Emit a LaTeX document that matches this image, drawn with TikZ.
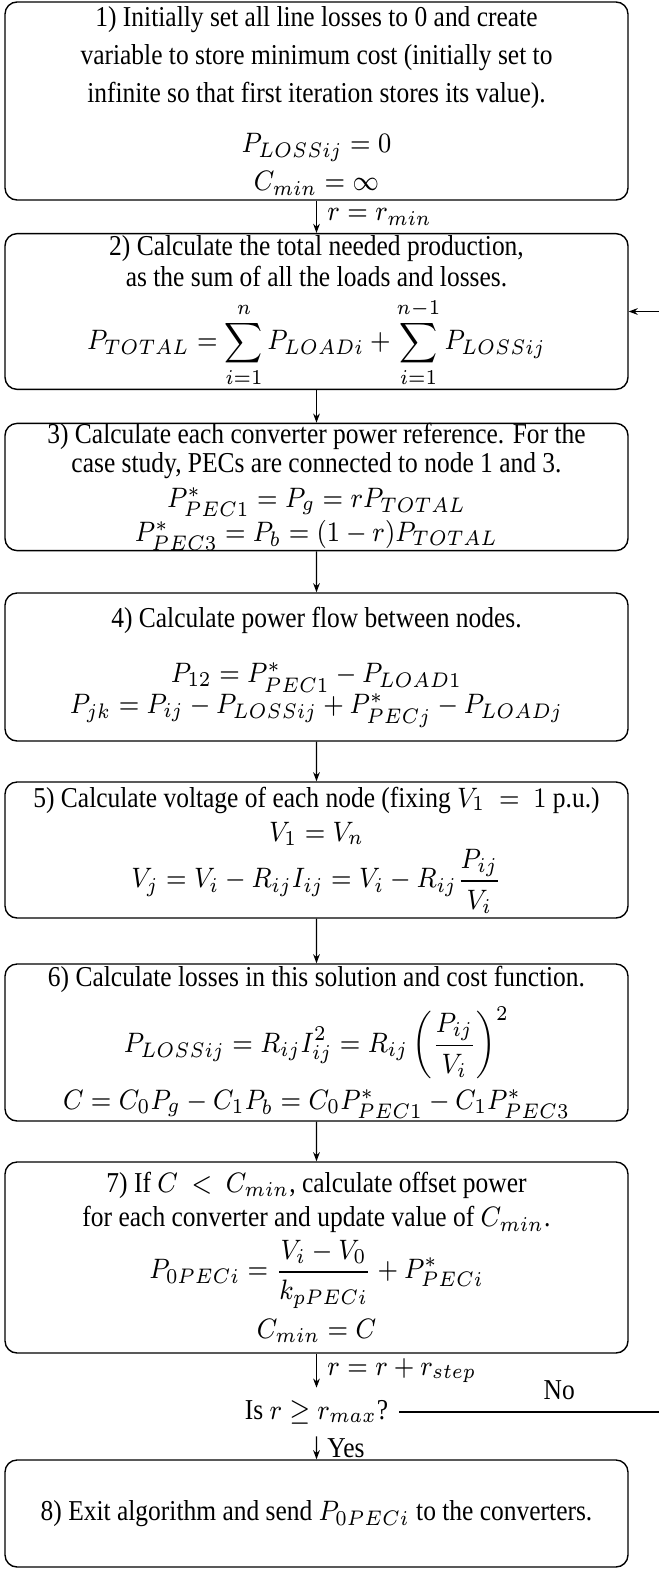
\documentclass[tikz,border=0pt]{standalone}
\usepackage{amsmath}
\usepackage{fontspec}
\setmainfont{Liberation Serif}
\usetikzlibrary{arrows.meta}

\begin{document}
\begin{tikzpicture}[font=\fontsize{8.2}{9.8}\selectfont,>={Stealth[length=2.6pt,width=1.9pt]},line width=0.4pt,
  stepbox/.style={draw,rounded corners=0.12cm,xscale=0.884,minimum width=7.047cm,align=center,inner xsep=2pt,inner ysep=0.5pt},
  lbl/.style={xscale=0.884}]
\useasboundingbox (0,0) rectangle (6.59,-15.70);
\node[stepbox,minimum height=1.98cm] (s1) at (3.165,-1.01)
  {1) Initially set all line losses to 0 and create\\[1pt]
   variable to store minimum cost (initially set to\\[1pt]
   infinite so that first iteration stores its value).\\[4.5pt]
   $P_{LOSSij}=0$\\[1pt]
   $C_{min}=\infty$};
\node[stepbox,minimum height=1.47cm] (s2) at (3.165,-3.115)
  {2) Calculate the total needed production,\\[-1pt]
   as the sum of all the loads and losses.\\[2pt]
   $\displaystyle P_{TOTAL}=\sum_{i=1}^{n}P_{LOADi}+\sum_{i=1}^{n-1}P_{LOSSij}$};
\node[stepbox,minimum height=1.26cm,inner ysep=0pt] (s3) at (3.165,-4.87)
  {3) Calculate each converter power reference. For the\\[-1.5pt]
   case study, PECs are connected to node 1 and 3.\\
   $P^*_{PEC1}=P_g=rP_{TOTAL}$\\[-0.2pt]
   $P^*_{PEC3}=P_b=(1-r)P_{TOTAL}$};
\node[stepbox,minimum height=1.48cm] (s4) at (3.165,-6.67)
  {4) Calculate power flow between nodes.\\[6pt]
   $P_{12}=P^*_{PEC1}-P_{LOAD1}$\\[-1pt]
   $P_{jk}=P_{ij}-P_{LOSSij}+P^*_{PECj}-P_{LOADj}$};
\node[stepbox,minimum height=1.36cm] (s5) at (3.165,-8.50)
  {5) Calculate voltage of each node (fixing $V_1\ =\ 1$ p.u.)\\
   $V_1=V_n$\\
   $\displaystyle V_j=V_i-R_{ij}I_{ij}=V_i-R_{ij}\frac{P_{ij}}{V_i}$};
\node[stepbox,minimum height=1.57cm] (s6) at (3.165,-10.425)
  {6) Calculate losses in this solution and cost function.\\[3pt]
   $\displaystyle P_{LOSSij}=R_{ij}I_{ij}^2=R_{ij}\left(\frac{P_{ij}}{V_i}\right)^2$\\[2pt]
   $C=C_0P_g-C_1P_b=C_0P^*_{PEC1}-C_1P^*_{PEC3}$};
\node[stepbox,minimum height=1.91cm] (s7) at (3.165,-12.575)
  {7) If $C\ <\ C_{min}$, calculate offset power\\
   for each converter and update value of $C_{min}$.\\[1pt]
   $\displaystyle P_{0PECi}=\frac{V_i-V_0}{k_{pPECi}}+P^*_{PECi}$\\[2pt]
   $C_{min}=C$};
\node[lbl] (check) at (3.165,-14.12) {Is $r\geq r_{max}$?};
\node[stepbox,minimum height=1.07cm] (s8) at (3.165,-15.135)
  {8) Exit algorithm and send $P_{0PECi}$ to the converters.};
\coordinate (loop) at (6.85,0);

\draw[->] (s1) -- node[lbl,right]{$r=r_{min}$} (s2);
\draw[->] (s2) -- (s3);
\draw[->] (s3) -- (s4);
\draw[->] (s4) -- (s5);
\draw[->] (s5) -- (s6);
\draw[->] (s6) -- (s7);
\draw[->] (s7) -- node[lbl,right]{$r=r+r_{step}$} (check);
\draw[->] (check) -- node[lbl,right]{Yes} (s8);
% back to step 2
\draw[->] (check.east) -- node[lbl,above,pos=0.56]{No} (check.east -| loop) |- (s2.east);
\end{tikzpicture}
\end{document}
